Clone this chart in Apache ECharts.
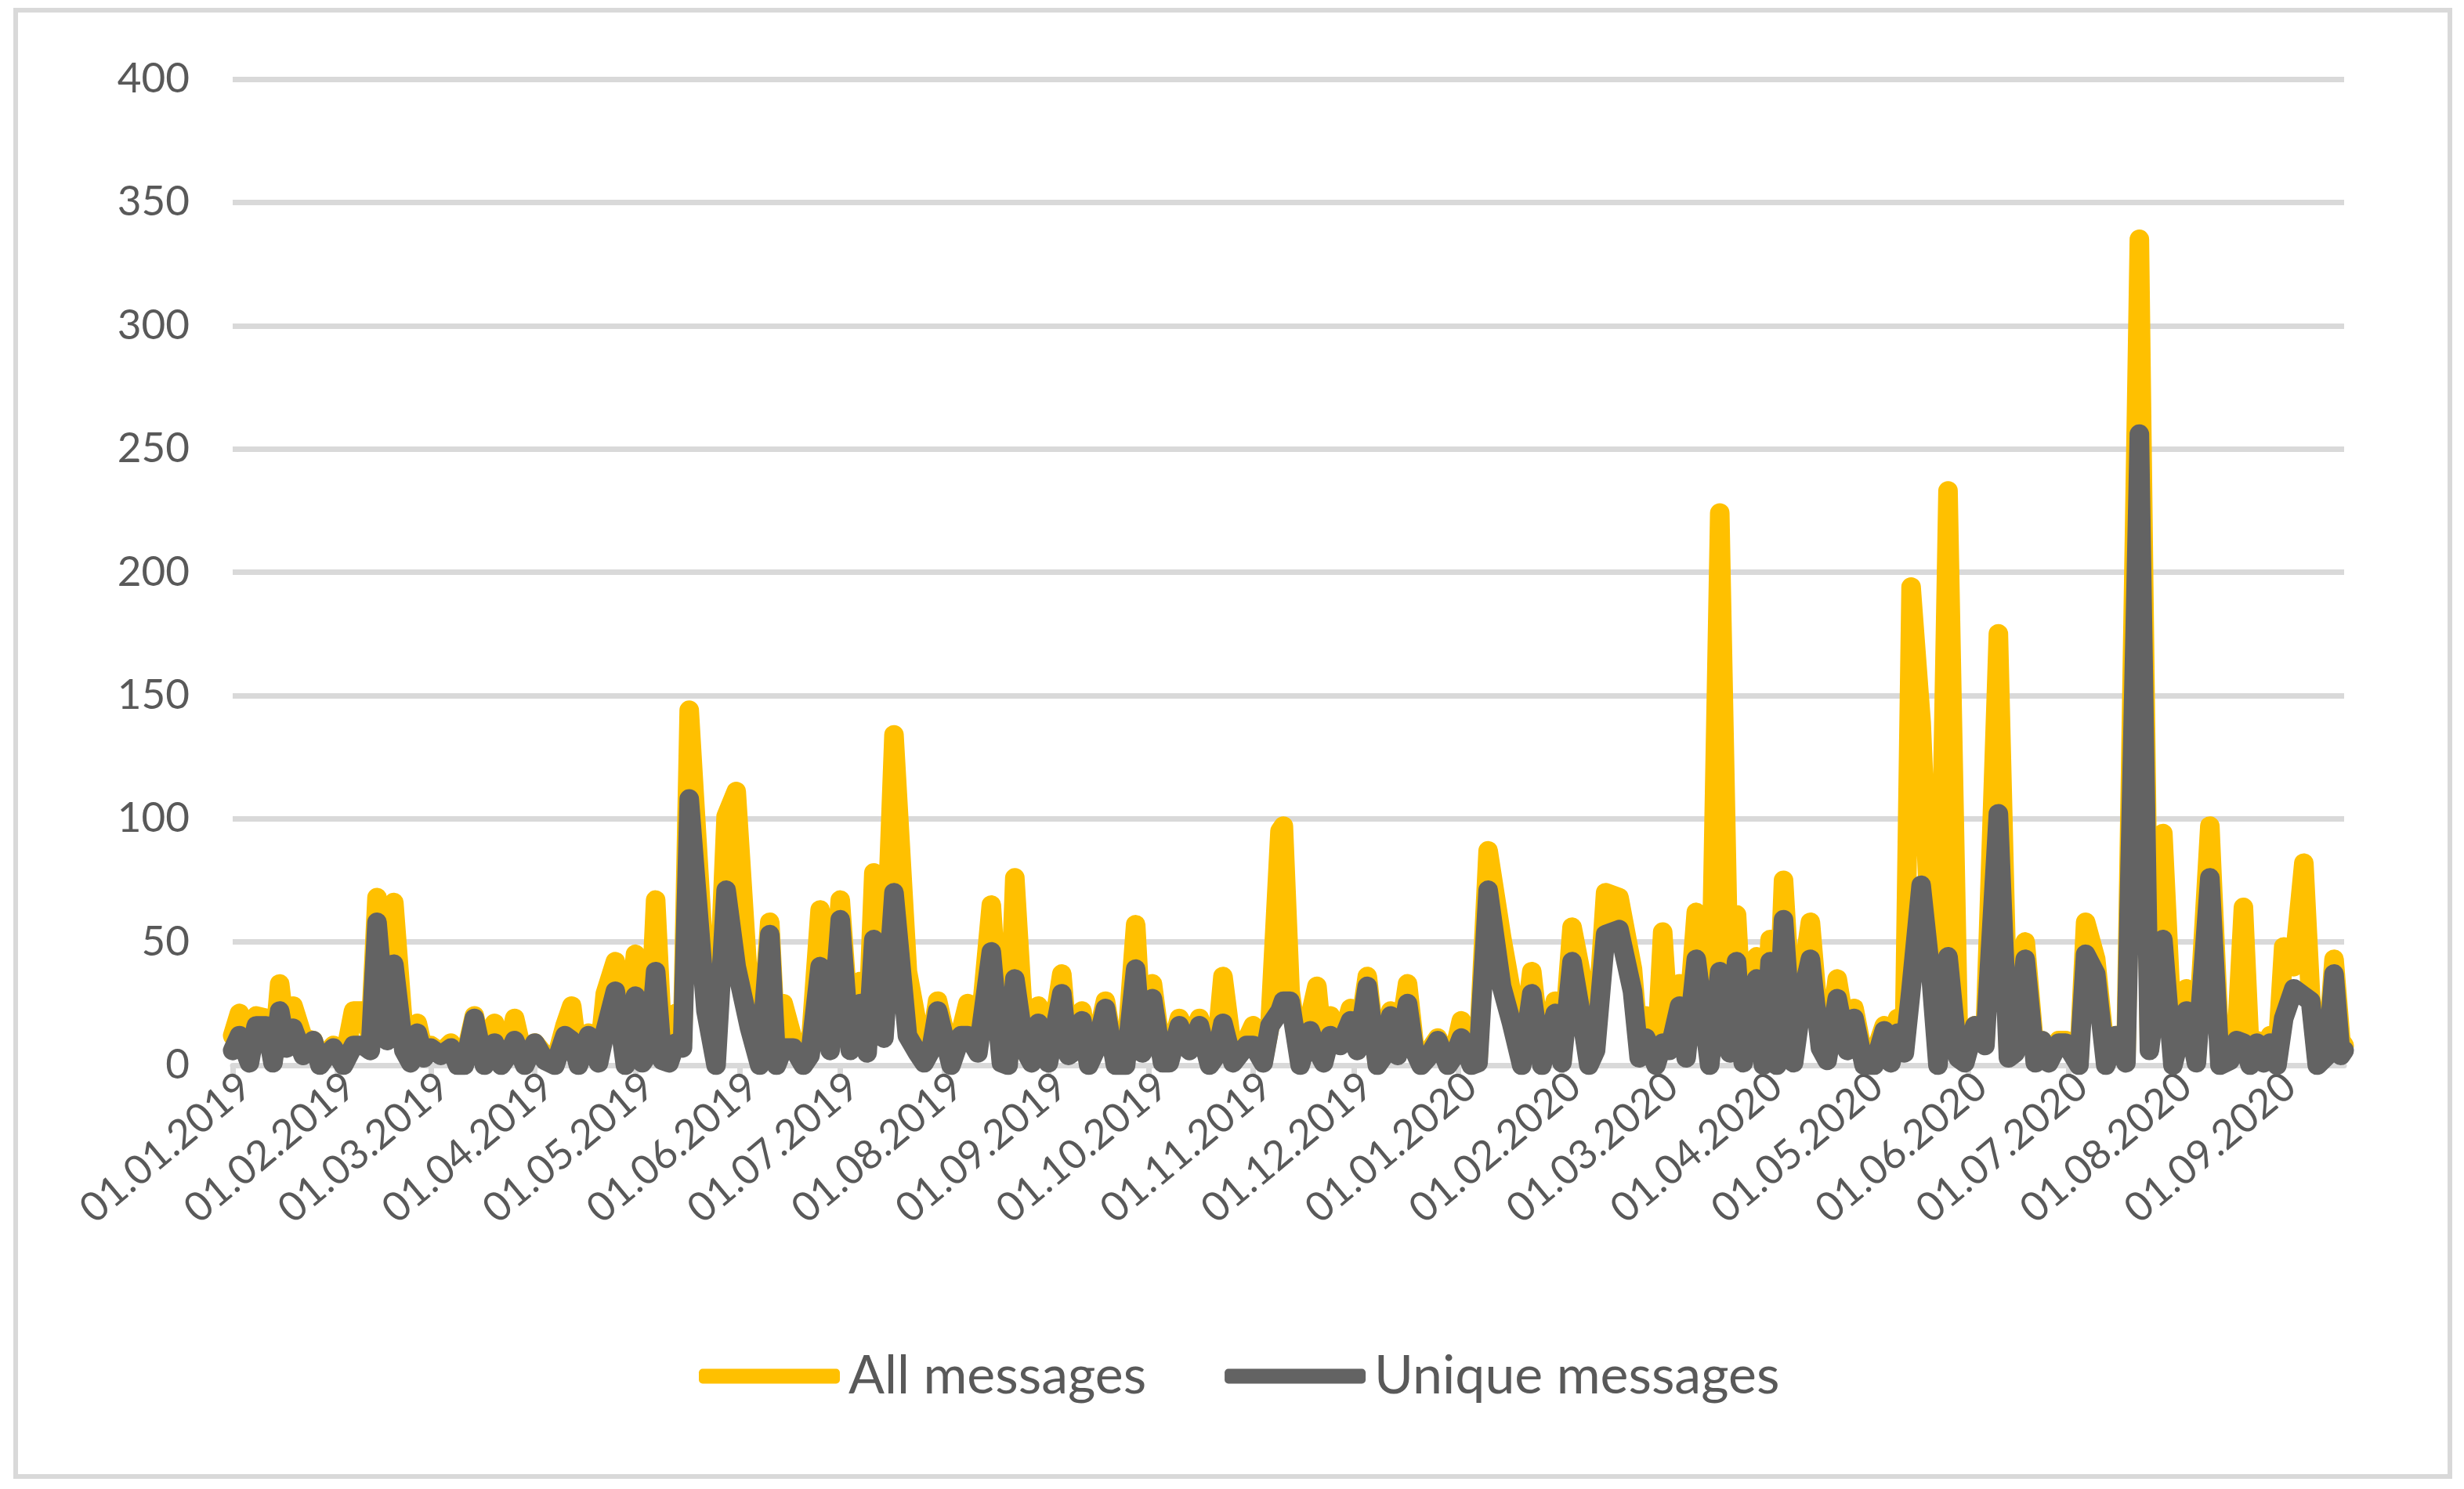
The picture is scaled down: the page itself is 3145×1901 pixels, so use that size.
<!DOCTYPE html>
<html>
<head>
<meta charset="utf-8">
<script src="https://cdn.jsdelivr.net/npm/echarts@6/dist/echarts.min.js"></script>
<style>
  html, body { margin: 0; padding: 0; background: #fff; }
  #chart { width: 3145px; height: 1901px; }
</style>
</head>
<body>
<div id="chart"></div>
<script>
// daily axis from 01.01.2019, 630 days (last day 21.09.2020)
const startDate = Date.UTC(2019, 0, 1);
const dayCount = 630;

// key points: day offset from 01.01.2019, All messages, Unique messages
const keyDays = [
  0, 2, 5, 7, 10, 12, 14, 16, 18, 21, 24, 26, 28, 30, 33, 36, 39, 41, 43, 46,
  48, 51, 53, 55, 57, 59, 62, 65, 67, 69, 72, 75, 78, 80, 82, 84, 87, 90, 93, 96,
  99, 101, 103, 106, 109, 111, 114, 117, 120, 122, 124, 126, 128, 130, 132, 134, 136, 141, 144, 147,
  150, 154, 157, 160, 162, 164, 167, 170, 172, 175, 178, 181, 184, 187, 189, 191, 194, 197, 201, 204,
  206, 208, 210, 214, 217, 219, 222, 226, 229, 231, 233, 236, 238, 240, 243, 247, 249, 251, 253, 255,
  257, 260, 263, 266, 269, 271, 274, 277, 279, 282, 285, 288, 291, 293, 295, 298, 302, 304, 307, 309,
  312, 313, 315, 318, 321, 323, 325, 327, 330, 333, 335, 338, 341, 343, 345, 347, 350, 352, 354, 356,
  359, 362, 364, 366, 369, 371, 374, 378, 381, 384, 387, 390, 394, 396, 399, 402, 404, 406, 409, 413,
  417, 419, 421, 424, 426, 428, 431, 433, 436, 440, 443, 446, 448, 450, 454, 456, 458, 460, 462, 465,
  468, 470, 473, 475, 478, 481, 483, 486, 489, 492, 494, 496, 498, 500, 503, 506, 508, 511, 514, 516,
  519, 522, 526, 529, 531, 534, 537, 539, 541, 544, 546, 550, 552, 555, 558, 561, 564, 568, 571, 575,
  578, 582, 585, 589, 592, 595, 597, 599, 601, 603, 605, 607, 609, 611, 614, 617, 619, 621, 624, 626,
  628, 629
];
const allMessages = [
  12, 21, 3, 20, 19, 2, 33, 10, 24, 11, 10, 1, 5, 8, 1, 22, 22, 12, 68, 14,
  66, 12, 3, 17, 5, 8, 5, 9, 1, 2, 20, 2, 17, 2, 6, 19, 1, 9, 4, 1,
  16, 24, 2, 13, 2, 29, 42, 3, 45, 3, 8, 67, 11, 4, 21, 10, 144, 29, 3, 101,
  111, 25, 3, 58, 3, 25, 10, 2, 6, 63, 10, 67, 10, 34, 8, 78, 25, 134, 38, 16,
  4, 8, 26, 2, 14, 25, 6, 65, 3, 2, 76, 8, 3, 24, 2, 37, 5, 8, 22, 1,
  8, 26, 1, 2, 57, 7, 33, 2, 4, 19, 10, 19, 2, 6, 36, 4, 10, 16, 2, 16,
  95, 97, 30, 1, 20, 32, 4, 20, 9, 23, 8, 36, 1, 6, 22, 6, 33, 8, 1, 5,
  11, 1, 6, 18, 2, 3, 87, 52, 29, 3, 38, 2, 26, 2, 56, 35, 2, 8, 70, 68,
  39, 6, 20, 1, 54, 12, 33, 8, 62, 2, 224, 12, 61, 10, 44, 4, 51, 4, 75, 6,
  39, 58, 10, 4, 35, 10, 23, 2, 4, 16, 4, 19, 8, 194, 139, 42, 6, 233, 17, 5,
  16, 10, 175, 6, 8, 50, 3, 10, 4, 10, 10, 2, 58, 43, 3, 12, 3, 335, 10, 94,
  8, 31, 3, 97, 4, 8, 12, 64, 3, 10, 4, 12, 3, 48, 40, 82, 28, 2, 6, 43,
  10, 8
];
const uniqueMessages = [
  6, 12, 1, 16, 16, 1, 22, 7, 15, 4, 10, 0, 4, 7, 0, 8, 8, 6, 58, 10,
  41, 6, 1, 13, 3, 7, 4, 7, 0, 0, 19, 0, 9, 0, 4, 10, 0, 9, 2, 0,
  12, 10, 0, 12, 1, 14, 30, 0, 28, 1, 5, 38, 2, 1, 9, 7, 108, 22, 0, 71,
  40, 15, 0, 53, 0, 7, 7, 0, 4, 40, 6, 59, 6, 25, 5, 51, 11, 70, 12, 5,
  1, 6, 22, 0, 12, 12, 5, 46, 1, 0, 35, 6, 1, 17, 1, 29, 4, 6, 18, 0,
  6, 23, 0, 0, 39, 5, 27, 1, 1, 16, 6, 16, 0, 4, 17, 1, 8, 8, 1, 16,
  22, 26, 26, 0, 14, 6, 1, 12, 8, 18, 6, 32, 0, 4, 20, 4, 25, 6, 0, 3,
  10, 0, 4, 11, 0, 1, 71, 32, 17, 0, 29, 0, 21, 1, 42, 18, 0, 6, 53, 55,
  30, 3, 11, 0, 9, 6, 24, 3, 43, 0, 38, 5, 42, 1, 35, 0, 42, 0, 59, 1,
  31, 43, 7, 2, 27, 6, 19, 0, 0, 14, 1, 13, 5, 31, 73, 35, 0, 44, 3, 1,
  16, 8, 102, 3, 5, 43, 1, 10, 1, 9, 9, 0, 45, 37, 0, 12, 1, 256, 6, 51,
  0, 22, 1, 76, 0, 2, 10, 9, 0, 9, 1, 9, 0, 19, 31, 28, 26, 0, 4, 37,
  4, 6
];
const yTicks = { min: 0, max: 400, interval: 50 };

function fmtDay(i) {
  const d = new Date(startDate + i * 86400000);
  const dd = String(d.getUTCDate()).padStart(2, '0');
  const mm = String(d.getUTCMonth() + 1).padStart(2, '0');
  return dd + '.' + mm + '.' + d.getUTCFullYear();
}
const dayLabels = [];
for (let i = 0; i < dayCount; i++) dayLabels.push(fmtDay(i));
const isMonthStart = (idx, val) => val.slice(0, 2) === '01';

const allData = keyDays.map((d, i) => [d, allMessages[i]]);
const uniqueData = keyDays.map((d, i) => [d, uniqueMessages[i]]);

const grey = '#d9d9d9';
const textColor = '#595959';
const font = 'Lato, "Open Sans", sans-serif';
const lineW = 25;

const chart = echarts.init(document.getElementById('chart'));
chart.setOption({
  animation: false,
  backgroundColor: '#fff',
  graphic: [{
    type: 'rect',
    shape: { x: 20, y: 13, width: 3107, height: 1872 },
    style: { fill: 'none', stroke: grey, lineWidth: 6 },
    silent: true
  }],
  grid: { left: 297, right: 153, top: 101, bottom: 541 },
  legend: {
    left: 887,
    top: 1718,
    itemWidth: 180,
    itemHeight: 19,
    itemGap: 100,
    icon: 'roundRect',
    textStyle: { fontFamily: font, fontSize: 68, color: textColor, padding: [0, 0, 0, 6] },
    data: ['All messages', 'Unique messages']
  },
  xAxis: {
    type: 'category',
    data: dayLabels,
    boundaryGap: false,
    axisLine: { lineStyle: { color: grey, width: 7 } },
    axisTick: { show: true, interval: isMonthStart, length: 14, lineStyle: { color: grey, width: 7 } },
    axisLabel: {
      interval: isMonthStart,
      rotate: 40,
      margin: 0,
      verticalAlign: 'top',
      fontFamily: font,
      fontSize: 52,
      color: textColor
    },
    splitLine: { show: false }
  },
  yAxis: {
    type: 'value',
    min: yTicks.min,
    max: yTicks.max,
    interval: yTicks.interval,
    axisLine: { show: false },
    axisTick: { show: false },
    axisLabel: { margin: 55, fontFamily: font, fontSize: 53, color: textColor },
    splitLine: { lineStyle: { color: grey, width: 7 } }
  },
  series: [
    {
      name: 'All messages',
      type: 'line',
      data: allData,
      showSymbol: false,
      color: '#ffc000',
      lineStyle: { width: lineW, cap: 'round', join: 'round' }
    },
    {
      name: 'Unique messages',
      type: 'line',
      data: uniqueData,
      showSymbol: false,
      color: '#636363',
      lineStyle: { width: lineW, cap: 'round', join: 'round' }
    }
  ]
});
</script>
</body>
</html>
